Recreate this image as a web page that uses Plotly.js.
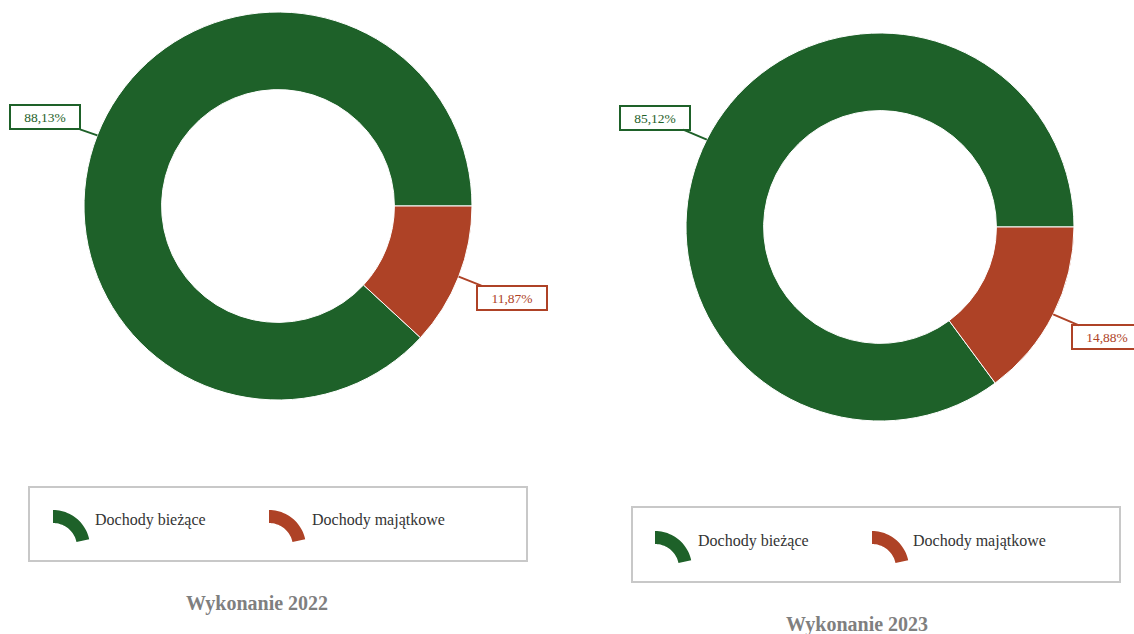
<!DOCTYPE html>
<html>
<head>
<meta charset="utf-8">
<script src="https://cdn.plot.ly/plotly-3.0.1.min.js"></script>
<style>html,body{margin:0;padding:0;background:#fff;}#chart{width:1134px;height:634px;}</style>
</head>
<body>
<div id="chart"></div>
<script>
// ---- data ----
const categories = ['Dochody bieżące', 'Dochody majątkowe'];
const values2022 = [88.13, 11.87];
const values2023 = [85.12, 14.88];
const chartTitles = ['Wykonanie 2022', 'Wykonanie 2023'];
const colors = ['#1e6129', '#ae4226'];

// ---- layout helpers (pixels -> paper) ----
const W = 1134, H = 634;
const px = x => x / W;
const py = y => 1 - y / H;
const FONT = 'Liberation Serif, Times New Roman, serif';

// donut geometry (pixel centers, radius)
const donuts = [
  {cx: 278, cy: 206, R: 194, values: values2022, title: chartTitles[0], titleX: 257, titleY: 603,
   offsets: [[-52, -18], [53, 21]],
   legend: {x0: 29, y0: 487, x1: 527, y1: 561, items: [[53, 510, 95], [269, 510, 312]]}},
  {cx: 880, cy: 227, R: 194, values: values2023, title: chartTitles[1], titleX: 857, titleY: 624,
   offsets: [[-52, -22], [54, 23]],
   legend: {x0: 632, y0: 507, x1: 1120, y1: 582, items: [[655, 531, 698], [872, 531, 913]]}}
];

const traces = [];
const annotations = [];
const shapes = [];

donuts.forEach((d, k) => {
  const total = d.values.reduce((a, b) => a + b, 0);
  // first slice ends at 3 o'clock, going counterclockwise from there
  const rot = 90 + 360 * (total - d.values[0]) / total;
  traces.push({
    type: 'pie',
    labels: categories,
    values: d.values,
    sort: false,
    direction: 'clockwise',
    rotation: rot,
    hole: 0.6,
    textinfo: 'none',
    hoverinfo: 'label+percent',
    marker: {colors: colors, line: {color: '#ffffff', width: 1}},
    domain: {x: [px(d.cx - d.R), px(d.cx + d.R)], y: [py(d.cy + d.R), py(d.cy - d.R)]},
    showlegend: false
  });

  // labels with boxes and leader lines
  let cum = 0;
  d.values.forEach((v, i) => {
    const mid = (cum + v / 2) / total * 2 * Math.PI; // counterclockwise from 3 o'clock
    cum += v;
    const tx = d.cx + d.R * Math.cos(mid);
    const ty = d.cy - d.R * Math.sin(mid);
    annotations.push({
      xref: 'paper', yref: 'paper', x: px(tx), y: py(ty),
      ax: d.offsets[i][0], ay: d.offsets[i][1],
      showarrow: true, arrowhead: 0, arrowwidth: 2, arrowcolor: colors[i], standoff: 0,
      text: v.toFixed(2).replace('.', ',') + '%',
      font: {family: FONT, size: 13.5, color: colors[i]},
      bordercolor: colors[i], borderwidth: 2, borderpad: 1, bgcolor: '#ffffff',
      width: 66, height: 20
    });
  });

  // legend box
  const L = d.legend;
  shapes.push({type: 'rect', xref: 'paper', yref: 'paper',
    x0: px(L.x0), x1: px(L.x1), y0: py(L.y1), y1: py(L.y0),
    line: {color: '#c8c8c8', width: 2}, fillcolor: 'rgba(0,0,0,0)'});
  L.items.forEach((it, i) => {
    const [ix, iy, tx] = it;
    const Ro = 37, Ri = 24, cxI = ix, cyI = iy + Ro;
    const a0 = Math.PI / 2, a1 = 12 * Math.PI / 180, n = 24;
    let path = '';
    for (let s = 0; s <= n; s++) {
      const a = a0 + (a1 - a0) * s / n;
      const xx = px(cxI + Ro * Math.cos(a)), yy = py(cyI - Ro * Math.sin(a));
      path += (s === 0 ? 'M' : 'L') + xx + ',' + yy + ' ';
    }
    for (let s = n; s >= 0; s--) {
      const a = a0 + (a1 - a0) * s / n;
      const xx = px(cxI + Ri * Math.cos(a)), yy = py(cyI - Ri * Math.sin(a));
      path += 'L' + xx + ',' + yy + ' ';
    }
    path += 'Z';
    shapes.push({type: 'path', xref: 'paper', yref: 'paper', path: path,
      fillcolor: colors[i], line: {width: 0}});
    annotations.push({xref: 'paper', yref: 'paper', x: px(tx - 2), y: py(iy + 10),
      xanchor: 'left', yanchor: 'middle', showarrow: false, text: categories[i],
      font: {family: FONT, size: 16, color: '#333333'}});
  });

  // chart title below
  annotations.push({xref: 'paper', yref: 'paper', x: px(d.titleX), y: py(d.titleY),
    xanchor: 'center', yanchor: 'middle', showarrow: false,
    text: '<b>' + d.title + '</b>',
    font: {family: FONT, size: 20, color: '#7f7f7f'}});
});

const layout = {
  width: W, height: H,
  margin: {l: 0, r: 0, t: 0, b: 0},
  paper_bgcolor: '#ffffff', plot_bgcolor: '#ffffff',
  showlegend: false,
  annotations: annotations,
  shapes: shapes
};

Plotly.newPlot('chart', traces, layout, {displayModeBar: false, staticPlot: true});
</script>
</body>
</html>
